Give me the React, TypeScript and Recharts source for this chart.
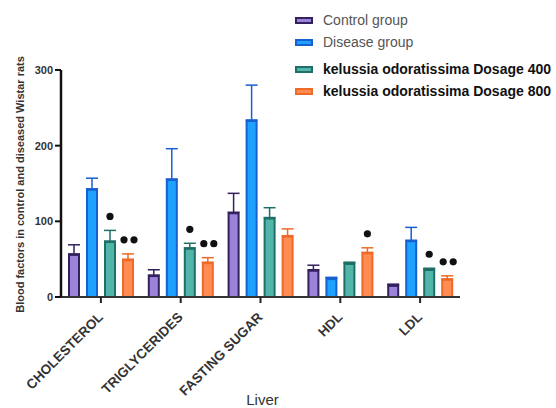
import React from "react";
import { BarChart, Bar, XAxis, YAxis, ErrorBar, Legend } from "recharts";

const categories = ["CHOLESTEROL", "TRIGLYCERIDES", "FASTING  SUGAR", "HDL", "LDL"];

const control = [57, 29, 112, 36, 16];
const controlErr = [12, 7, 25, 6, 1];
const disease = [143, 156, 234, 25, 75];
const diseaseErr = [14, 40, 46, 1, 17];
const dose400 = [74, 65, 105, 45, 37];
const dose400Err = [14, 6, 13, 1, 1];
const dose800 = [50, 46, 81, 59, 24];
const dose800Err = [7, 6, 9, 6, 4];

// number of significance dots above each bar
const sig400 = [1, 1, 0, 0, 1];
const sig800 = [2, 2, 0, 1, 2];

const yTicks = [0, 100, 200, 300];

const data = categories.map((name, i) => ({
  name,
  control: control[i],
  controlErr: [0, controlErr[i]],
  disease: disease[i],
  diseaseErr: [0, diseaseErr[i]],
  dose400: dose400[i],
  dose400Err: [0, dose400Err[i]],
  sig400: sig400[i],
  dose800: dose800[i],
  dose800Err: [0, dose800Err[i]],
  sig800: sig800[i],
}));

const series = [
  { key: "control", name: "Control group", fill: "#9c82d8", stroke: "#33205e", bold: false },
  { key: "disease", name: "Disease group", fill: "#1fa2ff", stroke: "#1760d0", bold: false },
  { key: "dose400", name: "kelussia odoratissima Dosage 400", fill: "#52b5aa", stroke: "#1f6e68", bold: true },
  { key: "dose800", name: "kelussia odoratissima Dosage 800", fill: "#ff8c52", stroke: "#ee6a26", bold: true },
];

const FONT = "'Liberation Sans', Arial, sans-serif";

const makeShape = (key: string, sigKey?: string) => (props: any) => {
  const { x, y, width, height, fill, stroke, payload } = props;
  const v = payload[key];
  const per = v ? height / v : 0;
  const errTop = y - payload[key + "Err"][1] * per;
  const n = sigKey ? payload[sigKey] : 0;
  const cx = x + width / 2;
  const dots = [];
  for (let k = 0; k < n; k++) {
    const dx = n === 1 ? 0 : (k - 0.5) * 10 + 1;
    dots.push(<circle key={k} cx={cx + dx} cy={errTop - 14} r={3.6} fill="#111" />);
  }
  return (
    <g>
      <rect x={x + 1} y={y + 1} width={width - 2} height={Math.max(height - 1, 0)} fill={fill} stroke={stroke} strokeWidth={2} />
      {dots}
    </g>
  );
};

const XTick = ({ x, y, payload }: any) => (
  <g transform={`translate(${x + 3},${y + 13})`}>
    <text textAnchor="end" transform="rotate(-45)" fontSize={13.5} fontWeight="bold" fill="#333" fontFamily={FONT}>
      {payload.value}
    </text>
  </g>
);

const LegendBox = () => (
  <div style={{ fontFamily: FONT, fontSize: 14, color: "#222" }}>
    {series.map((s, i) => (
      <div key={s.key} style={{ display: "flex", alignItems: "center", height: 22, marginTop: i === 2 ? 5 : 0 }}>
        <span style={{ display: "inline-block", width: 14, height: 3, background: s.fill, border: `2px solid ${s.stroke}`, marginRight: 10 }} />
        <span style={{ fontWeight: s.bold ? "bold" : "normal", color: s.bold ? "#111" : "#555", whiteSpace: "nowrap" }}>{s.name}</span>
      </div>
    ))}
  </div>
);

export default function App() {
  return (
    <div style={{ position: "absolute", left: 0, top: 0, width: 556, height: 408, background: "#fff" }}>
      <BarChart width={556} height={408} data={data} margin={{ top: 70, right: 96, left: 0, bottom: 0 }} barSize={12} barGap={6} barCategoryGap={7}>
        <XAxis
          dataKey="name"
          height={111}
          interval={0}
          tick={<XTick />}
          axisLine={{ stroke: "#333", strokeWidth: 2 }}
          tickLine={{ stroke: "#222", strokeWidth: 2 }}
          tickSize={6}
          label={{
            content: ({ viewBox }: any) => (
              <text x={viewBox.x + viewBox.width / 2 + 2} y={viewBox.y + 108} textAnchor="middle" fontSize={15} fill="#333" fontFamily={FONT}>
                Liver
              </text>
            ),
          }}
        />
        <YAxis
          width={61}
          domain={[0, 300]}
          ticks={yTicks}
          interval={0}
          axisLine={{ stroke: "#111", strokeWidth: 2.5 }}
          tickLine={{ stroke: "#111", strokeWidth: 2 }}
          tickSize={6}
          tick={{ fontSize: 11, fontWeight: "bold", fill: "#333", fontFamily: FONT }}
          label={{
            content: ({ viewBox }: any) => (
              <text
                x={20}
                y={viewBox.y + viewBox.height / 2 + 1}
                transform={`rotate(-90, 20, ${viewBox.y + viewBox.height / 2 + 1})`}
                textAnchor="middle"
                dominantBaseline="central"
                fontSize={11}
                fontWeight="bold"
                fill="#333"
                fontFamily={FONT}
              >
                Blood factors in control and diseased Wistar rats
              </text>
            ),
          }}
        />
        <Legend
          layout="vertical"
          align="center"
          verticalAlign="middle"
          content={<LegendBox />}
          wrapperStyle={{ position: "absolute", top: 9, left: 295, width: 261, bottom: "auto", right: "auto" }}
        />
        {series.map((s) => (
          <Bar
            key={s.key}
            dataKey={s.key}
            name={s.name}
            fill={s.fill}
            stroke={s.stroke}
            isAnimationActive={false}
            shape={makeShape(s.key, s.key === "dose400" ? "sig400" : s.key === "dose800" ? "sig800" : undefined)}
          >
            <ErrorBar dataKey={s.key + "Err"} width={6} strokeWidth={1.5} stroke={s.stroke} direction="y" />
          </Bar>
        ))}
      </BarChart>
    </div>
  );
}
